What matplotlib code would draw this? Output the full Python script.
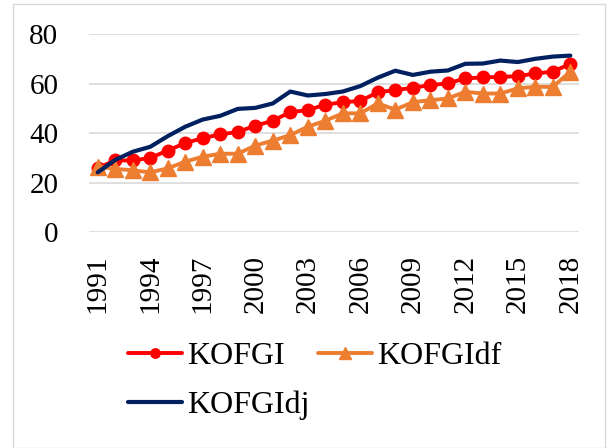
import matplotlib.pyplot as plt
from matplotlib.patches import Rectangle

plt.rcParams['font.family'] = ['Liberation Serif', 'DejaVu Serif']

years = list(range(1991, 2019))
kofgi = [26, 29, 29, 30, 33, 36, 38, 39.5, 40.5, 43, 45, 48.5, 49.3, 51.5,
         52.5, 53, 56.5, 57.4, 58.3, 59.4, 60.1, 62.1, 62.5, 62.7, 63, 64.1, 64.8, 68]
kofgidf = [26.5, 25.6, 25, 24.2, 25.8, 28.5, 30.5, 31.7, 31.7, 35, 37, 39.2, 42.6, 45,
           48, 48, 52, 49.5, 52.5, 53.3, 54, 56.7, 56, 56, 58.1, 58.7, 58.7, 64.8]
kofgidj = [24.2, 29.2, 32.5, 34.5, 38.8, 42.6, 45.5, 47, 49.8, 50.2, 52, 56.8, 55.2, 55.8,
           56.8, 59, 62.4, 65.2, 63.5, 64.8, 65.3, 68, 68.1, 69.3, 68.7, 70, 70.9, 71.3]

fig = plt.figure(figsize=(6.07, 4.48), dpi=100)
ax = fig.add_axes([0.1466, 0.4815, 0.8074, 0.4425])

x = list(range(len(years)))
l1, = ax.plot(x, kofgi, color='#FF0000', lw=2.8, marker='o', ms=9, label='KOFGI',
              solid_capstyle='round')
l2, = ax.plot(x, kofgidf, color='#ED7D31', lw=2.8, marker='^', ms=11, label='KOFGIdf',
              solid_capstyle='round')
l3, = ax.plot(x, kofgidj, color='#002060', lw=3, label='KOFGIdj', solid_capstyle='round')

ax.set_xlim(-0.5, len(years) - 0.5)
ax.set_ylim(0, 80)
ax.set_yticks([0, 20, 40, 60, 80])
ax.set_xticks(x[::3])
ax.set_xticklabels([str(y) for y in years[::3]], rotation=90)
ax.tick_params(length=0, labelsize=21)
ax.tick_params(axis='x', pad=16)
ax.tick_params(axis='y', pad=22)
ax.grid(axis='y', color='#D9D9D9', lw=1.2)
ax.set_axisbelow(True)
for s in ax.spines.values():
    s.set_visible(False)

# column-major fill: KOFGI, KOFGIdj in col 1; KOFGIdf in col 2
fig.legend([l1, l3, l2], ['KOFGI', 'KOFGIdj', 'KOFGIdf'],
           loc='upper left', bbox_to_anchor=(0.19, 0.265), ncol=2, frameon=False,
           fontsize=23, handlelength=1.7, handletextpad=0.15, columnspacing=0.25,
           labelspacing=0.6, borderaxespad=0, markerscale=0.75)

fig.patches.append(Rectangle((0.021, 0.0), 0.975, 0.991, transform=fig.transFigure,
                             fill=False, edgecolor='#D9D9D9', lw=1))

fig.savefig('out.png', dpi=100)
